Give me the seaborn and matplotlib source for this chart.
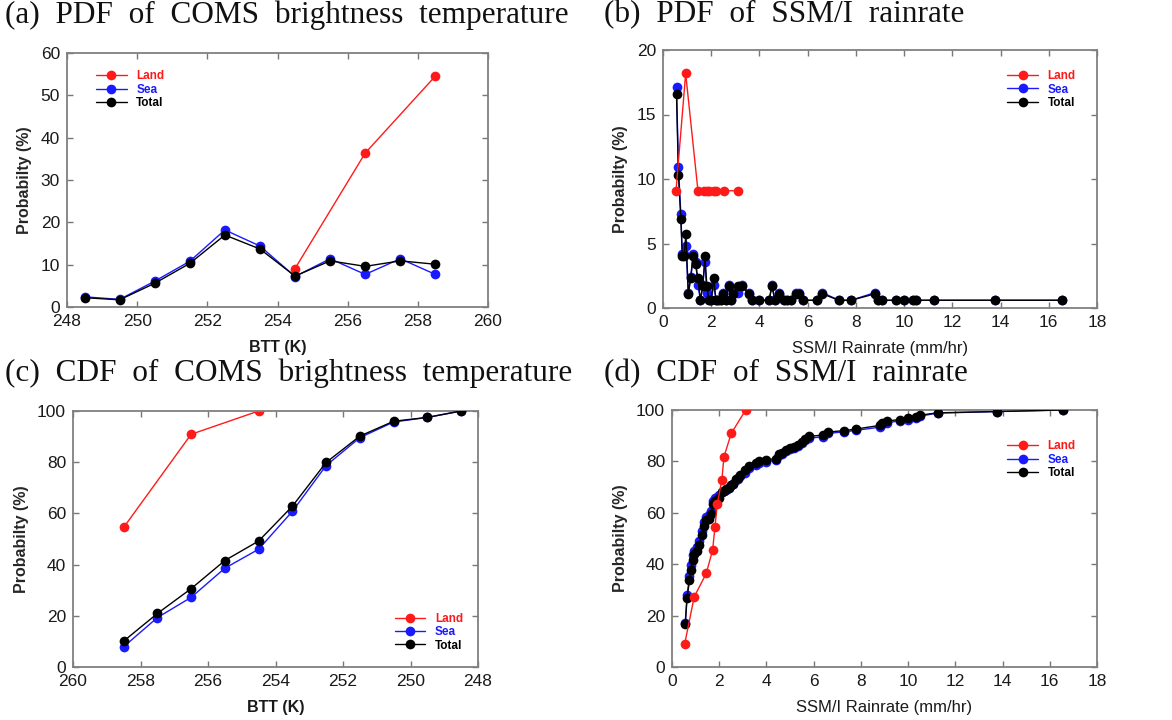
import numpy as np
import pandas as pd
import matplotlib
matplotlib.use("Agg")
import matplotlib.pyplot as plt
import seaborn as sns

# ---------------- data ----------------
# (a) PDF of COMS brightness temperature
btt_bins = [248.5, 249.5, 250.5, 251.5, 252.5, 253.5, 254.5, 255.5, 256.5, 257.5, 258.5]
btt_land_x = [254.5, 256.5, 258.5]
pdf_btt_land = [9.09, 36.36, 54.55]
pdf_btt_sea = [2.4, 1.8, 6.1, 10.8, 18.2, 14.4, 7.2, 11.4, 7.7, 11.4, 7.7]
pdf_btt_total = [2.2, 1.7, 5.6, 10.3, 17.0, 13.7, 7.3, 10.9, 9.6, 10.9, 10.1]

# (c) CDF of COMS brightness temperature (accumulated from warm side)
cdf_btt_land_x = [258.5, 256.5, 254.5]
cdf_btt_land = [54.5, 90.9, 100.0]
cdf_btt_x = [258.5, 257.5, 256.5, 255.5, 254.5, 253.5, 252.5, 251.5, 250.5, 249.5, 248.5]
cdf_btt_sea = [7.9, 19.3, 27.2, 38.6, 46.0, 60.8, 78.7, 89.6, 95.7, 97.5, 100.0]
cdf_btt_total = [10.1, 20.9, 30.6, 41.6, 49.2, 62.8, 79.9, 90.2, 96.0, 97.5, 100.0]

# (b) PDF of SSM/I rainrate
rain_land_x = [0.54, 0.94, 1.45, 1.72, 1.82, 1.92, 2.11, 2.20, 2.51, 3.12]
pdf_rain_land = [9.09, 18.18, 9.09, 9.09, 9.09, 9.09, 9.09, 9.09, 9.09, 9.09]
rain_x = [0.56, 0.64, 0.74, 0.80, 0.87, 0.95, 1.05, 1.15, 1.25, 1.35, 1.45, 1.55, 1.65,
          1.74, 1.82, 1.90, 2.00, 2.10, 2.20, 2.30, 2.40, 2.50, 2.60, 2.72, 2.80, 2.90,
          3.10, 3.28, 3.55, 3.70, 4.00, 4.40, 4.52, 4.64, 4.83, 5.00, 5.16, 5.32, 5.50,
          5.63, 5.80, 6.40, 6.60, 7.30, 7.80, 8.80, 8.90, 9.10, 9.65, 10.00, 10.35,
          10.50, 11.25, 13.75, 16.55]
pdf_rain_sea = [17.1, 10.9, 7.3, 4.2, 4.2, 4.8, 1.2, 2.4, 4.2, 3.6, 1.8, 0.6, 1.8,
                3.6, 1.2, 0.6, 0.6, 1.8, 0.6, 0.6, 0.6, 1.2, 0.6, 1.8, 0.6, 1.2,
                1.2, 1.8, 1.2, 0.6, 0.6, 0.6, 1.8, 0.6, 1.2, 0.6, 0.6, 0.6, 1.2,
                1.2, 0.6, 0.6, 1.2, 0.6, 0.6, 1.2, 0.6, 0.6, 0.6, 0.6, 0.6,
                0.6, 0.6, 0.6, 0.6]
pdf_rain_total = [16.6, 10.3, 6.9, 4.0, 4.0, 5.7, 1.1, 2.3, 4.0, 3.4, 2.3, 0.6, 1.7,
                  4.0, 1.7, 0.6, 0.6, 2.3, 0.6, 0.6, 0.6, 1.1, 0.6, 1.7, 0.6, 1.1,
                  1.7, 1.7, 1.1, 0.6, 0.6, 0.6, 1.7, 0.6, 1.1, 0.6, 0.6, 0.6, 1.1,
                  1.1, 0.6, 0.6, 1.1, 0.6, 0.6, 1.1, 0.6, 0.6, 0.6, 0.6, 0.6,
                  0.6, 0.6, 0.6, 0.6]

# (d) CDF of SSM/I rainrate
cdf_rain_land = [9.1, 27.3, 36.4, 45.5, 54.5, 63.6, 72.7, 81.8, 90.9, 100.0]
cdf_rain_sea = [17.1, 28.0, 35.3, 39.5, 43.7, 45.3, 46.5, 48.9, 53.0, 56.6, 58.4, 59.0, 60.8,
                64.4, 65.6, 66.2, 66.8, 68.0, 68.3, 68.9, 69.5, 70.7, 71.3, 72.6, 73.2, 74.4,
                75.6, 77.4, 78.7, 79.3, 79.9, 80.5, 82.3, 82.9, 84.1, 84.8, 85.4, 86.0, 87.2,
                88.4, 89.0, 89.6, 90.9, 91.5, 92.1, 93.3, 94.5, 95.1, 95.7, 96.3, 97.0,
                97.6, 98.8, 99.4, 100.0]
cdf_rain_total = [16.6, 27.0, 33.7, 37.7, 41.7, 44.0, 45.1, 47.4, 51.4, 54.9, 57.1, 57.7, 59.4,
                  63.4, 64.6, 65.1, 65.7, 68.0, 68.6, 69.1, 69.7, 70.9, 71.4, 73.1, 73.7, 74.9,
                  76.6, 78.3, 79.4, 80.0, 80.6, 81.1, 82.9, 83.4, 84.6, 85.1, 85.7, 86.3, 87.4,
                  88.6, 89.7, 90.3, 91.4, 92.0, 92.6, 94.0, 94.9, 95.7, 96.3, 96.9, 97.4,
                  98.0, 98.9, 99.4, 100.0]

titles = ["(a)  PDF  of  COMS  brightness  temperature",
          "(b)  PDF  of  SSM/I  rainrate",
          "(c)  CDF  of  COMS  brightness  temperature",
          "(d)  CDF  of  SSM/I  rainrate"]
series_names = ["Land", "Sea", "Total"]
series_colors = {"Land": "#ff1a1a", "Sea": "#1a1aff", "Total": "#000000"}

# ---------------- style ----------------
sns.set_style("ticks")
plt.rcParams["font.family"] = ["Liberation Sans", "DejaVu Sans"]

W, H = 1172, 720
fig = plt.figure(figsize=(W / 100, H / 100), dpi=100)


def axes_px(l, t, r, b):
    return fig.add_axes([l / W, 1 - b / H, (r - l) / W, (b - t) / H])


def draw(ax, data):
    for name, x, y, z in data:
        df = pd.DataFrame({"x": x, "y": y})
        sns.lineplot(data=df, x="x", y="y", ax=ax, color=series_colors[name],
                     marker="o", markersize=7, markeredgewidth=0,
                     linewidth=1.0, sort=False, estimator=None, zorder=z,
                     label=name)
    ax.get_legend().remove()
    h, l = ax.get_legend_handles_labels()
    d = dict(zip(l, h))
    return [d[n] for n in series_names]


def style(ax, xlabel, xbold):
    for s in ax.spines.values():
        s.set_color("#808080")
        s.set_linewidth(1.3)
    ax.tick_params(direction="in", top=True, right=True, length=4, width=1,
                   color="#777777", labelsize=12.5, labelcolor="#1a1a1a", pad=5)
    ax.set_ylabel("Probabilty (%)", fontsize=11.5, fontweight="bold", labelpad=6)
    ax.set_xlabel(xlabel, fontsize=12 if not xbold else 11.5,
                  fontweight="bold" if xbold else "normal", labelpad=8, color="#1a1a1a")


def legend(ax, handles, loc):
    leg = ax.legend(handles, series_names, loc="upper left", bbox_to_anchor=loc,
                    frameon=False, handlelength=2.6,
                    labelspacing=0.12, borderpad=0, handletextpad=0.8,
                    prop={"weight": "bold", "size": 8.5})
    for t, n in zip(leg.get_texts(), series_names):
        t.set_color(series_colors[n])


# (a)
ax_a = axes_px(67, 53, 488, 307)
h = draw(ax_a, [("Land", btt_land_x, pdf_btt_land, 2),
                ("Sea", btt_bins, pdf_btt_sea, 3),
                ("Total", btt_bins, pdf_btt_total, 4)])
ax_a.set_xlim(248, 260)
ax_a.set_ylim(0, 60)
ax_a.set_xticks(np.arange(248, 261, 2))
ax_a.set_yticks(np.arange(0, 61, 10))
style(ax_a, "BTT (K)", True)
legend(ax_a, h, (0.055, 0.955))

# (b)
ax_b = axes_px(663, 50, 1097, 308)
h = draw(ax_b, [("Sea", rain_x, pdf_rain_sea, 2),
                ("Total", rain_x, pdf_rain_total, 3),
                ("Land", rain_land_x, pdf_rain_land, 4)])
ax_b.set_xlim(0, 18)
ax_b.set_ylim(0, 20)
ax_b.set_xticks(np.arange(0, 19, 2))
ax_b.set_yticks(np.arange(0, 21, 5))
style(ax_b, "SSM/I Rainrate (mm/hr)", False)
legend(ax_b, h, (0.78, 0.945))

# (c)
ax_c = axes_px(73, 411, 478, 667)
h = draw(ax_c, [("Land", cdf_btt_land_x, cdf_btt_land, 2),
                ("Sea", cdf_btt_x, cdf_btt_sea, 3),
                ("Total", cdf_btt_x, cdf_btt_total, 4)])
ax_c.set_xlim(260, 248)
ax_c.set_ylim(0, 100)
ax_c.set_xticks(np.arange(248, 261, 2))
ax_c.set_yticks(np.arange(0, 101, 20))
style(ax_c, "BTT (K)", True)
legend(ax_c, h, (0.78, 0.235))

# (d)
ax_d = axes_px(672, 410, 1097, 667)
h = draw(ax_d, [("Sea", rain_x, cdf_rain_sea, 2),
                ("Total", rain_x, cdf_rain_total, 3),
                ("Land", rain_land_x, cdf_rain_land, 4)])
ax_d.set_xlim(0, 18)
ax_d.set_ylim(0, 100)
ax_d.set_xticks(np.arange(0, 19, 2))
ax_d.set_yticks(np.arange(0, 101, 20))
style(ax_d, "SSM/I Rainrate (mm/hr)", False)
legend(ax_d, h, (0.775, 0.905))

# panel titles
for (x, y), t in zip([(5, 0), (604, 0), (5, 359), (604, 359)], titles):
    fig.text(x / W, 1 - y / H, t, ha="left", va="top", fontsize=22.5,
             family=["Liberation Serif", "DejaVu Serif"], color="#111111")

fig.savefig("out.png", dpi=100)
